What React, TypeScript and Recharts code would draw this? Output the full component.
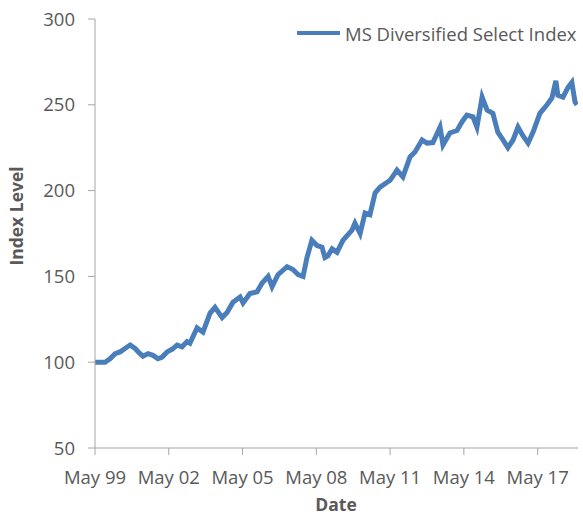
import { LineChart, Line, XAxis, YAxis } from "recharts";

// decimal years
const dates = [
  1999.33, 1999.54, 1999.74, 1999.94, 2000.15, 2000.35, 2000.55, 2000.76, 2000.96, 2001.16,
  2001.28, 2001.49, 2001.69, 2001.89, 2002.06, 2002.26, 2002.46, 2002.67, 2002.87, 2003.07,
  2003.19, 2003.48, 2003.72, 2004.01, 2004.21, 2004.5, 2004.7, 2004.94, 2005.23, 2005.35,
  2005.63, 2005.92, 2006.12, 2006.37, 2006.53, 2006.77, 2007.14, 2007.38, 2007.59, 2007.79,
  2007.95, 2008.15, 2008.36, 2008.56, 2008.68, 2008.8, 2008.97, 2009.17, 2009.41, 2009.78,
  2009.9, 2010.11, 2010.31, 2010.51, 2010.72, 2010.92, 2011.12, 2011.33, 2011.61, 2011.85,
  2012.14, 2012.34, 2012.63, 2012.83, 2013.07, 2013.36, 2013.48, 2013.76, 2014.05, 2014.25,
  2014.45, 2014.7, 2014.86, 2015.07, 2015.27, 2015.51, 2015.71, 2015.92, 2016.12, 2016.33,
  2016.53, 2016.73, 2016.94, 2017.14, 2017.42, 2017.71, 2017.91, 2018.07, 2018.15, 2018.36,
  2018.56, 2018.72, 2018.85, 2018.93,
];

const indexLevel = [
  100, 100, 100, 102, 105, 106, 108, 110, 108, 105,
  103.5, 105, 104, 102, 103, 106, 107.5, 110, 109, 112,
  111, 120, 117.5, 128.6, 132, 126, 129, 135, 138, 134.5,
  140, 141, 146, 150, 144, 151, 155.7, 154, 151, 150,
  161, 171, 168, 167, 161, 162, 166, 164, 171, 177,
  181, 175, 187, 186, 198.6, 202, 204, 206, 212, 208,
  219.6, 222.5, 229.5, 227.7, 228, 237, 226.6, 233.6, 235, 240,
  244, 243, 237, 254.5, 247, 245, 234, 229.5, 225, 229.5,
  237, 232, 227.7, 234, 245, 250, 254, 264, 255.6, 254.5,
  260, 263, 251.6, 250,
];

const tickYears = [1999.33, 2002.33, 2005.33, 2008.33, 2011.33, 2014.33, 2017.33];
const tickLabels = ["May 99", "May 02", "May 05", "May 08", "May 11", "May 14", "May 17"];
const levelTicks = [50, 100, 150, 200, 250, 300];

const seriesName = "MS Diversified Select Index";

const data = dates.map((d, i) => ({ date: d, level: indexLevel[i] }));

const FONT = "'Open Sans', sans-serif";
const GREY = "#595959";
const AXIS = "#a6a6a6";
const BLUE = "#4A7EBB";

export default function App() {
  return (
    <div style={{ position: "absolute", left: 0, top: 0, width: 583, height: 516, background: "#fff", fontFamily: FONT }}>
      <LineChart width={583} height={516} data={data} margin={{ top: 19, right: 5, bottom: 0, left: 0 }}>
        <XAxis
          type="number"
          dataKey="date"
          domain={[1999.33, 2018.97]}
          ticks={tickYears}
          tickFormatter={(v) => tickLabels[tickYears.indexOf(v)] ?? ""}
          allowDataOverflow
          height={68}
          stroke={AXIS}
          tickSize={7}
          tickMargin={16}
          tick={{ fill: GREY, fontSize: 18.5, fontFamily: FONT }}
          label={() => (
            <text x={336} y={511} textAnchor="middle" fill={GREY} fontSize={17.5} fontWeight="bold" fontFamily={FONT}>
              Date
            </text>
          )}
        />
        <YAxis
          type="number"
          domain={[50, 300]}
          ticks={levelTicks}
          width={95}
          stroke={AXIS}
          tickSize={7}
          tickMargin={13}
          tick={{ fill: GREY, fontSize: 18.5, fontFamily: FONT }}
          label={() => (
            <text
              x={16}
              y={216}
              transform="rotate(-90, 16, 216)"
              textAnchor="middle"
              dominantBaseline="central"
              fill={GREY}
              fontSize={17.5}
              fontWeight="bold"
              fontFamily={FONT}
            >
              Index Level
            </text>
          )}
        />
        <Line
          type="linear"
          dataKey="level"
          name={seriesName}
          stroke={BLUE}
          strokeWidth={5}
          dot={false}
          isAnimationActive={false}
        />
      </LineChart>
      <div style={{ position: "absolute", left: 297, top: 21, display: "flex", alignItems: "center", height: 24 }}>
        <span style={{ display: "inline-block", width: 43, height: 4, background: BLUE, marginRight: 5 }} />
        <span style={{ color: GREY, fontSize: 18.5, whiteSpace: "nowrap" }}>{seriesName}</span>
      </div>
    </div>
  );
}
